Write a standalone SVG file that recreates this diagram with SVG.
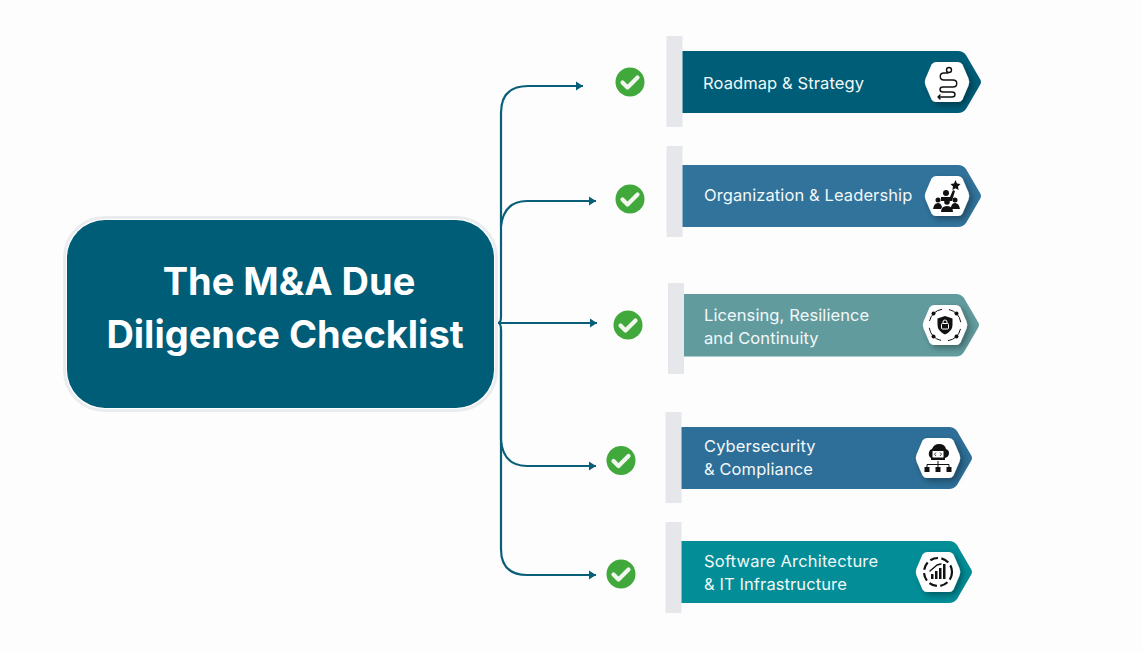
<svg xmlns="http://www.w3.org/2000/svg" width="1142" height="651" viewBox="0 0 1142 651">
<style>
text{font-family:Inter,"Noto Sans","Liberation Sans",sans-serif}
.title{font-size:38px;font-weight:700;fill:#fff;text-anchor:middle}
.lbl{font-size:16.5px;font-weight:400;fill:#f2f8f9;letter-spacing:.1px}
.bar{fill:#e5e7ea}
.conn{fill:none;stroke:#0a5f78;stroke-width:2.2}
.ic{fill:none;stroke:#111;stroke-width:1.4;stroke-linecap:round;stroke-linejoin:round}
.icf{fill:#111}
</style>
<defs>
<marker id="arr" markerUnits="userSpaceOnUse" markerWidth="8" markerHeight="10" refX="7" refY="5" orient="auto"><path d="M0 .5L7 5L0 9.500Z" fill="#0a5f78"/></marker>
<filter id="sh" x="-30%" y="-30%" width="170%" height="170%"><feDropShadow dx="3" dy="3" stdDeviation="3" flood-color="#000" flood-opacity=".35"/></filter>
<g id="check"><circle r="14.5" fill="#41a83b"/><path d="M-7.500 .5L-2.500 5.500L7.500 -4.500" fill="none" stroke="#f1f6ef" stroke-width="4.200" stroke-linecap="round" stroke-linejoin="round"/></g>
<path id="hex" d="M-11 -20H11Q14 -20 15.500 -17.500L21.500 -3.500Q23 0 21.500 3.500L15.500 17.500Q14 20 11 20H-11Q-14 20 -15.500 17.500L-21.500 3.500Q-23 0 -21.500 -3.500L-15.500 -17.500Q-14 -20 -11 -20Z" fill="#fff" filter="url(#sh)"/>
</defs>
<rect width="1142" height="651" fill="#fdfdfd"/>
<g id="connectors">
<path class="conn" marker-end="url(#arr)" d="M501 316V113Q501 86 528 86H583"/>
<path class="conn" marker-end="url(#arr)" d="M501 226Q504 201 527 201H596"/>
<path class="conn" d="M501 316Q501 323 498 323Q501 323 501 330"/>
<path class="conn" marker-end="url(#arr)" d="M498 323H597"/>
<path class="conn" marker-end="url(#arr)" d="M501 330V440Q503 466 527 466H596"/>
<path class="conn" marker-end="url(#arr)" d="M501 330V549Q501 575 527 575H596"/>
</g>
<g id="main">
<rect x="64.500" y="217.500" width="432" height="193" rx="40" fill="#fff" stroke="#e9edf0" stroke-width="3"/>
<rect x="67" y="220" width="427" height="188" rx="38" fill="#005d78"/>
<text class="title" x="289" y="295">The M&amp;A Due</text>
<text class="title" x="285" y="348">Diligence Checklist</text>
</g>
<g id="item1">
<use href="#check" x="630" y="82"/>
<rect class="bar" x="666.500" y="36" width="16" height="91"/>
<path d="M682.500 51H958Q963 51 966 55L980 79Q982 82 980 85L966 109Q963 113 958 113H682.500Z" fill="#005d78"/>
<text class="lbl" x="703" y="88.500">Roadmap &amp; Strategy</text>
<use href="#hex" x="947" y="82"/>
<path class="ic" d="M948 73H944C939 73 939 80 944 80H953C958 80 958 87 953 87H943C939 87 939 92 943 92H952C956 92 956 97 952 97H938M940 95L938 97L940 99"/>
<circle class="ic" cx="949" cy="70" r="2.500"/>
</g>
<g id="item2">
<use href="#check" x="630" y="199"/>
<rect class="bar" x="666.500" y="146" width="16" height="91"/>
<path d="M682.500 165H958Q963 165 966 169L980 193Q982 196 980 199L966 223Q963 227 958 227H682.500Z" fill="#31739b"/>
<text class="lbl" x="704" y="200.500">Organization &amp; Leadership</text>
<use href="#hex" x="947" y="196"/>
<path class="icf" d="M955.500 180L957 183.500L960.500 184L958 186.500L958.600 190L955.500 188.300L952.400 190L953 186.500L950.500 184L954 183.500Z"/>
<circle class="icf" cx="946" cy="193" r="3"/><circle class="icf" cx="938" cy="200" r="2.500"/><circle class="icf" cx="955" cy="200" r="2.500"/><circle class="icf" cx="947" cy="202" r="2.800"/>
<path class="icf" d="M941 197H950L953 190L955 191L952 201H941ZM933 209Q934 203 938 203Q941 203 942 207L941 209ZM951 207Q952 203 955 203Q959 203 960 209H951ZM941 212Q941 206 947 206Q953 206 953 212Z"/>
</g>
<g id="item3">
<use href="#check" x="628" y="325"/>
<rect class="bar" x="668" y="283" width="16" height="91"/>
<path d="M684 294H956Q961 294 964 298L978 322Q980 325 978 328L964 352Q961 356.500 956 356.500H684Z" fill="#629b9e"/>
<text class="lbl" x="704" y="320.500">Licensing, Resilience</text>
<text class="lbl" x="704" y="343.500">and Continuity</text>
<use href="#hex" x="945" y="325"/>
<circle cx="945" cy="325" r="16" fill="none" stroke="#111" stroke-width="1" stroke-dasharray="18 7" stroke-dashoffset="-4"/>
<circle class="icf" cx="933.500" cy="313.500" r="2"/><circle class="icf" cx="956.500" cy="313.500" r="2"/><circle class="icf" cx="933.500" cy="336.500" r="2"/><circle class="icf" cx="956.500" cy="336.500" r="2"/>
<path class="icf" d="M945 316L952.500 318.500V325Q952.500 331 945 334.500Q937.500 331 937.500 325V318.500Z"/>
<rect x="941.500" y="323.500" width="7" height="5.500" rx="1" fill="none" stroke="#fff" stroke-width="1"/>
<path d="M943 323.500V322Q943 320 945 320Q947 320 947 322V323.500" fill="none" stroke="#fff" stroke-width="1"/>
</g>
<g id="item4">
<use href="#check" x="621" y="460.500"/>
<rect class="bar" x="665.500" y="412" width="16" height="91"/>
<path d="M681.500 427H949Q954 427 957 431L971 455Q973 458 971 461L957 485Q954 489 949 489H681.500Z" fill="#2d6f98"/>
<text class="lbl" x="704" y="451.500">Cybersecurity</text>
<text class="lbl" x="704" y="474.500">&amp; Compliance</text>
<use href="#hex" x="938" y="458"/>
<path class="icf" d="M931 458Q928 456 929 452Q930 449 932 449Q934 444 939 444Q945 444 946 449Q949 450 949 453Q949 457 945 458V460H931Z"/>
<rect x="932.500" y="451" width="11" height="6.500" fill="#fff"/>
<path d="M936 452.500L934.500 454.200L936 456M940 452.500L941.500 454.200L940 456" fill="none" stroke="#111" stroke-width=".8"/>
<path d="M938 461V464M927 467V464.500H949V467M938 464V467" fill="none" stroke="#111" stroke-width="1"/>
<rect class="icf" x="924.500" y="467" width="5" height="5"/><rect class="icf" x="935.500" y="467" width="5" height="5"/><rect class="icf" x="946.500" y="467" width="5" height="5"/>
</g>
<g id="item5">
<use href="#check" x="621" y="574"/>
<rect class="bar" x="665.500" y="522" width="16" height="91"/>
<path d="M681.500 541H949Q954 541 957 545L971 569Q973 572 971 575L957 599Q954 603 949 603H681.500Z" fill="#028d97"/>
<text class="lbl" x="704" y="566.500" style="letter-spacing:.2px">Software Architecture</text>
<text class="lbl" x="704" y="589.500">&amp; IT Infrastructure</text>
<use href="#hex" x="938" y="572"/>
<circle cx="938" cy="572" r="14" fill="none" stroke="#111" stroke-width="2.200" stroke-dasharray="8 3.500"/>
<rect class="icf" x="931" y="574" width="2.500" height="5"/><rect class="icf" x="935" y="571" width="2.500" height="8"/><rect class="icf" x="939" y="568" width="2.500" height="11"/><rect class="icf" x="943" y="564" width="2.500" height="15"/>
<path class="ic" d="M930 571L937 565L941 564"/>
</g>
</svg>
